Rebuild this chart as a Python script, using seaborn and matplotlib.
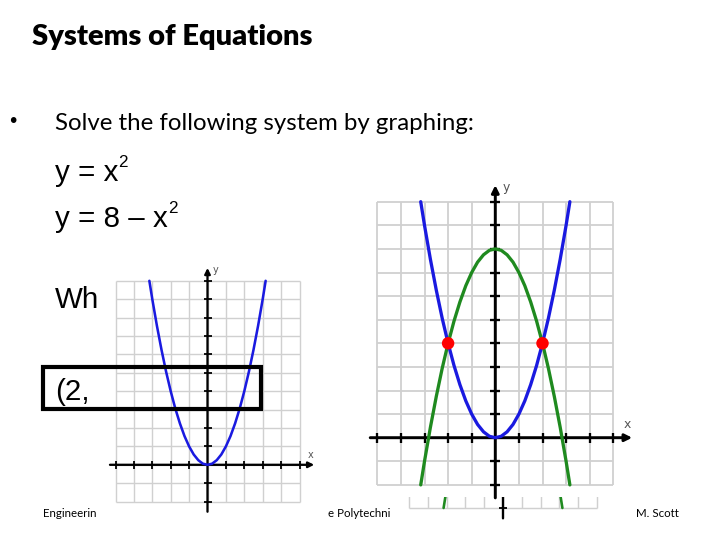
import matplotlib
matplotlib.use('Agg')
from matplotlib import pyplot as plt
from matplotlib.patches import Rectangle
import pandas as pd
import seaborn as sns

# sample points
curve_x = [-3.16, -3.0, -2.75, -2.5, -2.25, -2.0, -1.75, -1.5, -1.25, -1.0, -0.75, -0.5, -0.25,
           0.0, 0.25, 0.5, 0.75, 1.0, 1.25, 1.5, 1.75, 2.0, 2.25, 2.5, 2.75, 3.0, 3.16]
blue_y = [10.0, 9.0, 7.56, 6.25, 5.06, 4.0, 3.06, 2.25, 1.56, 1.0, 0.56, 0.25, 0.06,
          0.0, 0.06, 0.25, 0.56, 1.0, 1.56, 2.25, 3.06, 4.0, 5.06, 6.25, 7.56, 9.0, 10.0]
green_y = [-2.0, -1.0, 0.44, 1.75, 2.94, 4.0, 4.94, 5.75, 6.44, 7.0, 7.44, 7.75, 7.94,
           8.0, 7.94, 7.75, 7.44, 7.0, 6.44, 5.75, 4.94, 4.0, 2.94, 1.75, 0.44, -1.0, -2.0]
solution_x = [-2, 2]
solution_y = [4, 4]

grid_x = [-5, -4, -3, -2, -1, 0, 1, 2, 3, 4, 5]
grid_y = [-2, -1, 0, 1, 2, 3, 4, 5, 6, 7, 8, 9, 10]
axis_x = (-5.3, 5.8)
axis_y = (-2.55, 10.7)

title = 'Systems of Equations'
bullet_text = 'Solve the following system by graphing:'
footer_left = 'Engineerin'
footer_mid = 'e Polytechni'
footer_right = 'M. Scott'

W, H = 720, 540
sns.set_style('white')
fig = plt.figure(figsize=(7.2, 5.4), dpi=100)
renderer = fig.canvas.get_renderer()

curves = pd.DataFrame({'x': curve_x, 'blue': blue_y, 'green': green_y})
points = pd.DataFrame({'x': solution_x, 'y': solution_y})


def add_graph(ox, oy, s, xlim, ylim, green=False, dots=False):
    x0 = ox + xlim[0] * s
    x1 = ox + xlim[1] * s
    top = oy - ylim[1] * s
    bot = oy - ylim[0] * s
    ax = fig.add_axes([x0 / W, 1 - bot / H, (x1 - x0) / W, (bot - top) / H])
    ax.set_facecolor('white')
    for sp in ax.spines.values():
        sp.set_visible(False)
    ax.set_xticks([])
    ax.set_yticks([])
    ax.vlines(grid_x, grid_y[0], grid_y[-1], color='#d0d0d0', lw=s * 0.055, zorder=1)
    ax.hlines(grid_y, grid_x[0], grid_x[-1], color='#d0d0d0', lw=s * 0.055, zorder=1)
    lw_axis = s * 0.09
    arrow = dict(arrowstyle='-|>', color='black', lw=lw_axis, mutation_scale=s * 0.45,
                 shrinkA=0, shrinkB=0)
    ax.annotate('', xy=(axis_x[1], 0), xytext=(axis_x[0], 0), arrowprops=arrow, zorder=3)
    ax.annotate('', xy=(0, axis_y[1]), xytext=(0, axis_y[0]), arrowprops=arrow, zorder=3)
    tx = [v for v in grid_x if v != 0]
    ty = [v for v in grid_y if v != 0]
    ax.plot(tx, [0] * len(tx), ls='none', marker='|', ms=s * 0.3, mew=s * 0.07, color='black', zorder=4)
    ax.plot([0] * len(ty), ty, ls='none', marker='_', ms=s * 0.3, mew=s * 0.07, color='black', zorder=4)
    ax.text(5.6, 0.55, 'x', fontsize=s * 0.38, color='#555555', ha='center', va='center')
    ax.text(0.45, 10.6, 'y', fontsize=s * 0.38, color='#555555', ha='center', va='center')
    if green:
        sns.lineplot(data=curves, x='x', y='green', sort=False, estimator=None, ax=ax,
                     color='#1f8a1f', lw=s * 0.1, zorder=5)
    sns.lineplot(data=curves, x='x', y='blue', sort=False, estimator=None, ax=ax,
                 color='#1a1ae0', lw=s * 0.1, zorder=6)
    if dots:
        sns.scatterplot(data=points, x='x', y='y', ax=ax, color='#ff0000', s=(s * 0.38) ** 2,
                        edgecolor='none', zorder=7)
    ax.set_xlim(xlim)
    ax.set_ylim(ylim)
    ax.set_xlabel('')
    ax.set_ylabel('')
    return ax


# back copy of the right picture (only its bottom strip shows), then the two graphs
add_graph(503, 470.4, 18.8, (-5.3, 5.9), (-2.9, 10.9), green=True, dots=True)
add_graph(495.3, 437.7, 23.6, (-5.45, 6.2), (-2.53, 10.9), green=True, dots=True)
add_graph(207.5, 464.8, 18.4, (-5.6, 6.2), (-2.8, 10.9))


def put_text(x, y, s, size, width=None, va='baseline', **kw):
    t = fig.text(x / W, 1 - y / H, s, fontsize=size, va=va, color='black', **kw)
    if width:
        w = t.get_window_extent(renderer).width
        t.set_fontsize(size * width / w)
    return t


put_text(32, 45, title, 20, width=281, family='Lato', weight='heavy')
put_text(13, 122, '\u2022', 14, va='center', ha='center', family='DejaVu Sans')
put_text(55, 130, bullet_text, 19, width=418, family='Lato')

eq1 = put_text(55, 181, 'y = x', 21, width=63, family='Liberation Sans')
fs = eq1.get_fontsize()
eq2 = put_text(55, 227, 'y = 8 \u2013 x', fs, family='Liberation Sans')
for t, base in [(eq1, 167), (eq2, 213)]:
    right = t.get_window_extent(renderer).x1
    put_text(right, base, '2', fs * 0.58, family='Liberation Sans')

put_text(55, 308, 'Wh', fs, family='Liberation Sans')
put_text(55, 400, '(2,', fs, family='Liberation Sans')

fsz = put_text(43, 517, footer_left, 9, width=54, family='Lato').get_fontsize()
put_text(328, 517, footer_mid, fsz, family='Lato')
put_text(636, 517, footer_right, fsz, family='Lato')

box = Rectangle((43 / W, 1 - 409 / H), (261 - 43) / W, (409 - 367) / H, fill=False,
                lw=3, ec='black', transform=fig.transFigure, zorder=10)
fig.add_artist(box)

fig.savefig('out.png', dpi=100)
plt.close()
